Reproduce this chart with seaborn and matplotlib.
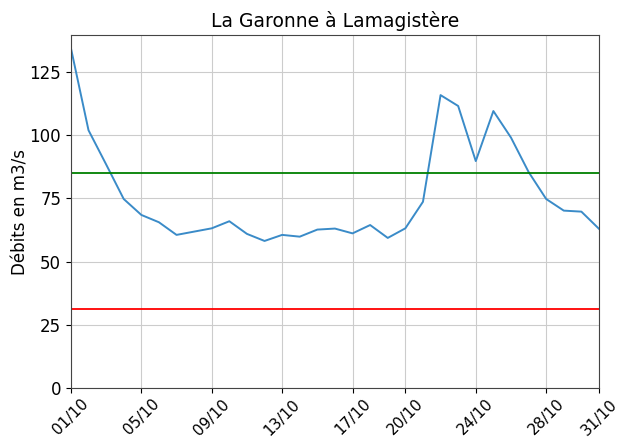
import pandas as pd
import matplotlib
matplotlib.use("Agg")
import matplotlib.pyplot as plt
import matplotlib.dates as mdates
import seaborn as sns

# daily flow, October
days = ["2023-10-%02d" % d for d in range(1, 32)]
debits = [134.5, 102.0, 88.5, 74.8, 68.5, 65.6, 60.6, 61.9, 63.2, 66.0,
          61.0, 58.2, 60.6, 59.9, 62.7, 63.1, 61.2, 64.5, 59.4, 63.2,
          73.7, 115.9, 111.6, 89.8, 109.6, 99.1, 85.5, 74.8, 70.2, 69.8,
          63.0]
seuil_haut = 85.2
seuil_bas = 31.2
tick_days = ["2023-10-01", "2023-10-05", "2023-10-09", "2023-10-13",
             "2023-10-17", "2023-10-20", "2023-10-24", "2023-10-28",
             "2023-10-31"]

df = pd.DataFrame({"date": pd.to_datetime(days), "debit": debits})

plt.rcParams["font.family"] = ["DejaVu Sans"]
fig, ax = plt.subplots(figsize=(6.22, 4.38), dpi=100)
sns.lineplot(data=df, x="date", y="debit", ax=ax, color="#3a8bc8",
             linewidth=1.4)
ax.axhline(seuil_haut, color="green", linewidth=1.3)
ax.axhline(seuil_bas, color="red", linewidth=1.3)

ax.set_xlim(df["date"].iloc[0], df["date"].iloc[-1])
ax.set_ylim(bottom=0)
ax.set_xticks(pd.to_datetime(tick_days))
ax.xaxis.set_major_formatter(mdates.DateFormatter("%d/%m"))
ax.set_yticks([0, 25, 50, 75, 100, 125])
ax.tick_params(axis="y", labelsize=12)
ax.tick_params(axis="x", labelsize=11, pad=2.5)
plt.setp(ax.get_xticklabels(), rotation=45, ha="center")
ax.grid(True, color="#cccccc")
ax.set_axisbelow(True)
ax.set_xlabel("")
ax.set_ylabel("Débits en m3/s", size=12, labelpad=0)
ax.set_title("La Garonne à Lamagistère", size=13.5)
for s in ax.spines.values():
    s.set_color("#444444")

fig.subplots_adjust(left=0.114, right=0.963, top=0.92, bottom=0.114)
plt.savefig("out.png", dpi=100)
